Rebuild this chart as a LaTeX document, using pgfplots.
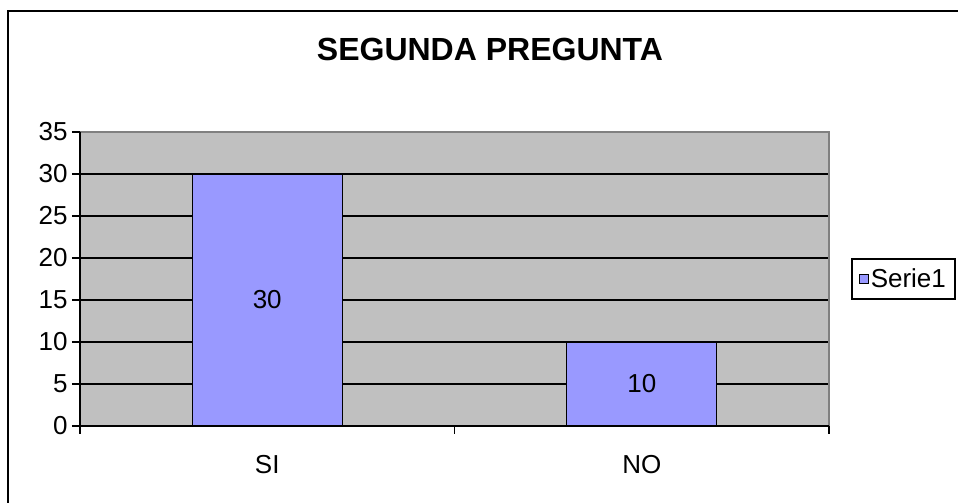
\documentclass[border=0pt]{standalone}
\usepackage{pgfplots}
\pgfplotsset{compat=1.18}
\usepackage{fontspec}
\setmainfont{Liberation Sans}
\definecolor{plotgray}{HTML}{C0C0C0}
\definecolor{bordergray}{HTML}{808080}
\definecolor{barblue}{HTML}{9999FF}
\newcommand{\lbl}{\fontsize{26}{31}\selectfont}
\begin{document}
\begin{tikzpicture}[x=1pt,y=1pt]
\useasboundingbox (0,0) rectangle (958,503);
\draw[line width=2pt] (8,-20) -- (8,492) -- (990,492);
\node[anchor=base,font=\fontsize{32}{38}\selectfont\bfseries] at (490,442) {SEGUNDA PREGUNTA};
\begin{axis}[
  at={(80pt,77pt)}, anchor=south west,
  scale only axis, width=749pt, height=294pt,
  xmin=0.5, xmax=2.5, ymin=0, ymax=35,
  ytick={0,5,...,35}, ytick pos=left, xtick pos=bottom,
  xtick={0.5,1.5,2.5}, xticklabels={},
  extra x ticks={1,2}, extra x tick labels={SI,NO},
  extra x tick style={major tick length=0pt, grid=none,
     tick label style={yshift=-26pt}},
  tick align=outside, major tick length=8pt,
  tick style={black, line width=1.2pt},
  ymajorgrids, grid style={black, line width=1.2pt},
  axis line style={draw=none},
  axis background/.style={fill=plotgray},
  ticklabel style={font=\lbl},
  /pgf/number format/assume math mode=true,
  yticklabel style={xshift=-1pt},
  legend style={at={(1,0.5)}, anchor=west, xshift=22pt, draw=black,
     line width=1.5pt, fill=white, font=\lbl, inner xsep=7pt, inner ysep=8pt,
     nodes={inner sep=2pt}},
  legend image code/.code={\draw[#1,draw=black,line width=1pt] (0pt,-4.5pt) rectangle (9pt,4.5pt);},
  clip=false,
]
\addplot[ybar, bar width=150pt, fill=barblue, draw=black, line width=1.2pt,
  visualization depends on={rawy \as \rawy},
  nodes near coords,
  every node near coord/.append style={font=\lbl, anchor=center,
     shift={(axis direction cs:0,-\rawy/2)}},
  /pgf/number format/assume math mode=true]
  coordinates {(1,30) (2,10)};
\addlegendentry{Serie1}
\draw[bordergray, line width=2pt] (rel axis cs:0,1) -- (rel axis cs:1,1) -- (rel axis cs:1,0);
\draw[black, line width=1.5pt] (rel axis cs:0,1) -- (rel axis cs:0,0) -- (rel axis cs:1,0);
\end{axis}
\end{tikzpicture}
\end{document}
